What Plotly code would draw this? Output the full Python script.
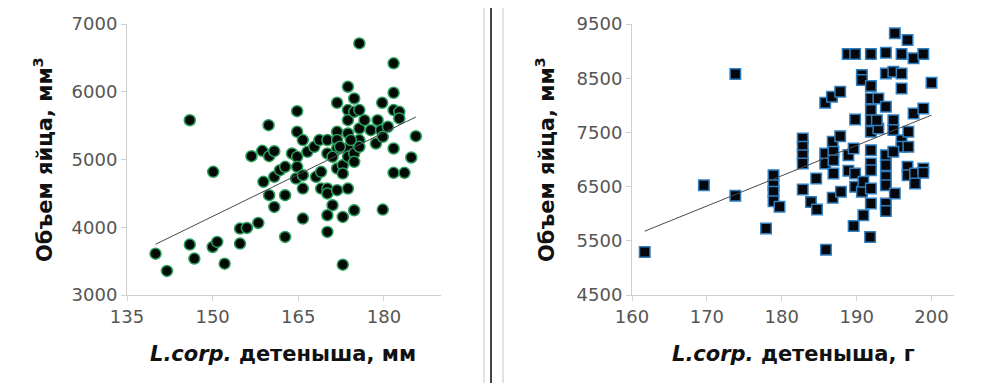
import numpy as np
import plotly.graph_objects as go

# ---- Left panel: length of young (mm) vs egg volume (mm3)
left_length_mm = [140, 142, 146, 146, 146.8, 150.1, 150, 150.8, 152.1, 154.8, 154.8, 156, 156.8, 158, 158.7,
                  158.9, 159.8, 159.9, 159.9, 160.8, 160.8, 160.8, 161.8, 162.7, 162.7, 162.7, 163.9, 164.8,
                  164.8, 164.8, 164.8, 164.6, 165.8, 165.8, 165.8, 165.8, 166.6, 167.8, 168.1, 168.7, 169,
                  169, 170.1, 170.1, 170.1, 170.1, 170.1, 170.1, 171, 171.8, 171.8, 171.8, 171.8, 171.8,
                  171.8, 172.8, 172.8, 172.8, 172.8, 173.7, 173.7, 173.7, 173.7, 173.7, 173.7, 173.7, 174.8,
                  174.8, 174.8, 174.8, 174.8, 175.7, 175.7, 175.7, 175.7, 175.7, 176.6, 177.7, 178.9, 178.6,
                  179.5, 179.7, 179.8, 179.8, 180.7, 181.7, 181.7, 181.7, 181.7, 181.7, 182.7, 182.7, 183.6,
                  184.8, 185.6, 171, 172.3, 174.2]
left_volume = [3610, 3355, 5580, 3744, 3537, 4818, 3709, 3783, 3463, 3980, 3759, 3990, 5049, 4064, 5128,
               4670, 5507, 5049, 4473, 5123, 4744, 4300, 4842, 4892, 4473, 3857, 5089, 5714,
               5409, 5039, 4892, 4719, 5286, 4768, 4571, 4128, 5113, 5187, 4744, 5286, 4818,
               4571, 5286, 5089, 4571, 4498, 4177, 3931, 4325, 5837, 5409, 5286, 5163, 4867,
               4547, 4916, 4793, 4153, 3448, 6074, 5729, 5581, 5384, 5163, 5039, 4571, 5901,
               5704, 5089, 4966, 4251, 6714, 5729, 5458, 5286, 5187, 5581, 5433, 5581, 5236,
               5433, 5837, 5335, 4261, 5483, 6419, 5985, 5729, 5163, 4803, 5704, 5606, 4803,
               5030, 5345, 5039, 5187, 5286]

# ---- Right panel: mass of young (g) vs egg volume (mm3)
right_mass_g = [161.7, 169.6, 173.8, 173.8, 177.9, 178.9, 178.9, 178.9, 178.9, 179.7, 182.8, 182.8, 182.8,
                182.8, 182.8, 183.9, 184.6, 184.7, 185.8, 185.8, 185.8, 185.9, 186.7, 186.8, 186.9, 186.9,
                186.9, 186.8, 187.8, 187.8, 187.9, 188.8, 188.9, 188.9, 189.8, 189.8, 189.6, 189.8, 189.8,
                189.6, 190.7, 190.7, 190.7, 190.9, 190.9, 191.9, 191.9, 191.9, 191.9, 191.9, 191.9, 191.9,
                191.9, 191.9, 191.9, 191.9, 191.8, 192.9, 192.9, 192.7, 193.9, 193.9, 193.9, 193.9, 193.9,
                193.9, 193.9, 193.9, 193.9, 195.1, 194.9, 194.9, 194.9, 195.1, 196, 196, 196, 196, 196,
                196.8, 196.9, 196.9, 196.8, 196.8, 197.6, 197.6, 197.8, 197.8, 198.9, 198.9, 198.9, 198.9,
                200, 194.9]
right_volume = [5294, 6526, 8576, 6329, 5725, 6711, 6526, 6403, 6230, 6126, 7388, 7234, 7080,
                6926, 6446, 6218, 6649, 6076, 8047, 7111, 6926, 5337, 8158, 7326, 7142, 6988,
                6741, 6292, 8250, 7431, 6403, 8946, 7080, 6791, 8946, 7739, 7203, 6741, 6495,
                5775, 8558, 8466, 6403, 5972, 6588, 8946, 8355, 8127, 7911, 7726, 7511, 7172,
                6926, 6803, 6464, 6187, 5571, 8127, 7573, 7726, 8970, 8589, 7973, 7080, 6895,
                6680, 6526, 6187, 6052, 9328, 8620, 7726, 7542, 6372, 8946, 8589, 8312, 7357, 7234,
                9205, 7511, 7234, 6865, 6711, 8866, 7850, 6741, 6557, 8946, 7942, 6834, 6754,
                8416, 7142]

left_xticks = [135, 150, 165, 180]
left_yticks = [3000, 4000, 5000, 6000, 7000]
right_xticks = [160, 170, 180, 190, 200]
right_yticks = [4500, 5500, 6500, 7500, 8500, 9500]

# page body keeps an 8px margin; lay the figure out in window pixels
OFF = 8
W, H = 1001 - 2 * OFF, 391 - 2 * OFF


def px(x):
    return (x - OFF) / W


def py(y):
    return 1 - (y - OFF) / H


def trend(x, y):
    k, b = np.polyfit(x, y, 1)
    xs = np.array([min(x), max(x)])
    return xs, k * xs + b


fig = go.Figure()

lx, ly = trend(left_length_mm, left_volume)
rx, ry = trend(right_mass_g, right_volume)

fig.add_trace(go.Scatter(x=left_length_mm, y=left_volume, mode="markers", xaxis="x", yaxis="y",
                         marker=dict(symbol="circle", size=11, color="#050a06",
                                     line=dict(color="#2aa05e", width=1.5)), showlegend=False))
fig.add_trace(go.Scatter(x=lx, y=ly, mode="lines", xaxis="x", yaxis="y",
                         line=dict(color="#4a4a4a", width=1), showlegend=False))
fig.add_trace(go.Scatter(x=right_mass_g, y=right_volume, mode="markers", xaxis="x2", yaxis="y2",
                         marker=dict(symbol="square", size=10.5, color="#05070a",
                                     line=dict(color="#2f7fc0", width=1.5)), showlegend=False))
fig.add_trace(go.Scatter(x=rx, y=ry, mode="lines", xaxis="x2", yaxis="y2",
                         line=dict(color="#4a4a4a", width=1), showlegend=False))

ax_common = dict(showgrid=False, zeroline=False, showline=True, linecolor="#d0d0d0", linewidth=1,
                 ticks="outside", ticklen=5, tickcolor="#d0d0d0", automargin=False,
                 tickfont=dict(family="DejaVu Sans", size=18, color="#555555"))
ydom = [py(295), py(24)]

fig.update_layout(
    template="none",
    width=W, height=H, margin=dict(l=0, r=0, t=0, b=0, pad=0, autoexpand=False),
    paper_bgcolor="white", plot_bgcolor="white",
    xaxis=dict(domain=[px(127), px(441)], range=[135, 190], tickvals=left_xticks, anchor="y", **ax_common),
    yaxis=dict(domain=ydom, range=[3000, 7000], tickvals=left_yticks, anchor="x", **ax_common),
    xaxis2=dict(domain=[px(632), px(954)], range=[160, 203], tickvals=right_xticks, anchor="y2", **ax_common),
    yaxis2=dict(domain=ydom, range=[4500, 9500], tickvals=right_yticks, anchor="x2", **ax_common),
)

title_font = dict(family="DejaVu Sans", size=21, color="#111111")
ann = dict(xref="paper", yref="paper", showarrow=False, xanchor="center", yanchor="middle", font=title_font)
fig.add_annotation(x=px(283), y=py(354), text="<b><i>L.corp.</i> детеныша, мм</b>", **ann)
fig.add_annotation(x=px(793), y=py(354), text="<b><i>L.corp.</i> детеныша, г</b>", **ann)
fig.add_annotation(x=px(43), y=py(160), textangle=-90, text="<b>Объем яйца, мм<sup>3</sup></b>", **ann)
fig.add_annotation(x=px(545), y=py(160), textangle=-90, text="<b>Объем яйца, мм<sup>3</sup></b>", **ann)

# frame lines between the two panels
shapes = [
    dict(type="line", xref="paper", yref="paper", x0=px(484), x1=px(484), y0=0, y1=1,
         line=dict(color="#e2e2e2", width=2)),
    dict(type="line", xref="paper", yref="paper", x0=px(503), x1=px(503), y0=0, y1=1,
         line=dict(color="#e2e2e2", width=2)),
    dict(type="line", xref="paper", yref="paper", x0=px(491), x1=px(491), y0=0, y1=1,
         line=dict(color="#444444", width=2)),
]
fig.update_layout(shapes=shapes)

fig.write_html("out.html")
